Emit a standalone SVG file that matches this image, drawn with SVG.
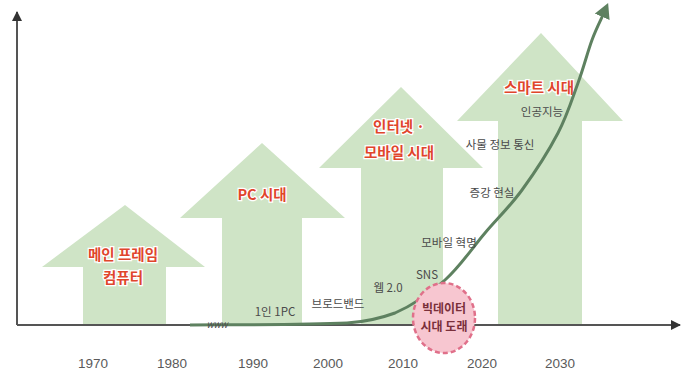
<svg xmlns="http://www.w3.org/2000/svg" width="695" height="383" viewBox="0 0 695 383">
<style>
.up{fill:#cfe4c6}
.era{font-family:"Noto Sans CJK KR","Noto Sans",sans-serif;font-weight:bold;font-size:14.5px;fill:#e0452c;stroke:#ffffff;stroke-width:2.5px;paint-order:stroke;text-anchor:middle}
.tech{font-family:"Noto Sans CJK KR","Noto Sans",sans-serif;font-size:11.5px;fill:#4a4a4a;text-anchor:middle}
.year{font-family:"Liberation Sans","Noto Sans",sans-serif;font-size:13.5px;fill:#5a5a5a;text-anchor:middle}
.axis{stroke:#555555;stroke-width:2;fill:none}
.big{font-family:"Noto Sans CJK KR","Noto Sans",sans-serif;font-weight:bold;font-size:12px;fill:#7a2f3a;text-anchor:middle}
</style>
<defs>
<marker id="ah" markerUnits="userSpaceOnUse" markerWidth="10" markerHeight="10" refX="9" refY="5" orient="auto">
<path d="M0,0 L10,5 L0,10 z" fill="#333333"/>
</marker>
<marker id="gh" markerUnits="userSpaceOnUse" markerWidth="16" markerHeight="16" refX="2" refY="8" orient="auto">
<path d="M0,0 L15,8 L0,16 z" fill="#5e8160"/>
</marker>
</defs>
<rect width="695" height="383" fill="#ffffff"/>

<g id="era-mainframe">
<polygon class="up" points="125,205 205,267 166,267 166,325 83,325 83,267 42,267"/>
<text class="era" x="123" y="260">메인 프레임</text>
<text class="era" x="123" y="283">컴퓨터</text>
</g>
<g id="era-pc">
<polygon class="up" points="262,143 345,218 302,218 302,325 222,325 222,218 180,218"/>
<text class="era" x="262" y="200">PC 시대</text>
</g>
<g id="era-internet">
<polygon class="up" points="401,87 483,168 443,168 443,325 361,325 361,168 319,168"/>
<text class="era" x="399" y="132">인터넷 ·</text>
<text class="era" x="399" y="158">모바일 시대</text>
</g>
<g id="era-smart">
<polygon class="up" points="541,33 623,121 582,121 582,325 498,325 498,121 457,121"/>
<text class="era" x="539" y="93">스마트 시대</text>
</g>

<g id="axes">
<line class="axis" x1="17" y1="325" x2="680" y2="325" marker-end="url(#ah)"/>
<line class="axis" x1="17" y1="325" x2="17" y2="12" marker-end="url(#ah)"/>
</g>

<g id="connectors">
<path d="M190,325 C230,324.7 300,325 347,323 C365,322 380,318.5 395,313 C411.3,305.8 430,293.3 445,280 C460,266.7 472.2,248 485,233 C497.8,218 509.8,206.7 522,190 C534.2,173.3 548.7,150.8 558,133 C567.3,115.2 572.3,98.5 578,83 C583.7,67.5 587.8,51.3 592,40 C596.2,28.7 601.2,19.2 603,15" fill="none" stroke="#5e8160" stroke-width="3" marker-end="url(#gh)"/>
</g>

<g id="techs">
<text class="tech" x="542" y="116">인공지능</text>
<text class="tech" x="500" y="149">사물 정보 통신</text>
<text class="tech" x="492" y="197">증강 현실</text>
<text class="tech" x="449" y="247">모바일 혁명</text>
<text class="tech" x="427" y="279">SNS</text>
<text class="tech" x="388" y="292">웹 2.0</text>
<text class="tech" x="338" y="308">브로드밴드</text>
<text class="tech" x="275" y="316">1인 1PC</text>
<text class="tech" x="217" y="328" style="font-size:8px;font-style:italic">WWW</text>
</g>

<g id="bigdata">
<ellipse cx="444" cy="318" rx="31" ry="35" fill="#f7c6d0" stroke="#e0708a" stroke-width="2.5" stroke-dasharray="5,3"/>
<text class="big" x="444" y="313">빅데이터</text>
<text class="big" x="444" y="331">시대 도래</text>
</g>

<g id="years">
<text class="year" x="93" y="368">1970</text>
<text class="year" x="172" y="368">1980</text>
<text class="year" x="253" y="368">1990</text>
<text class="year" x="328" y="368">2000</text>
<text class="year" x="403" y="368">2010</text>
<text class="year" x="482" y="368">2020</text>
<text class="year" x="560" y="368">2030</text>
</g>
</svg>
